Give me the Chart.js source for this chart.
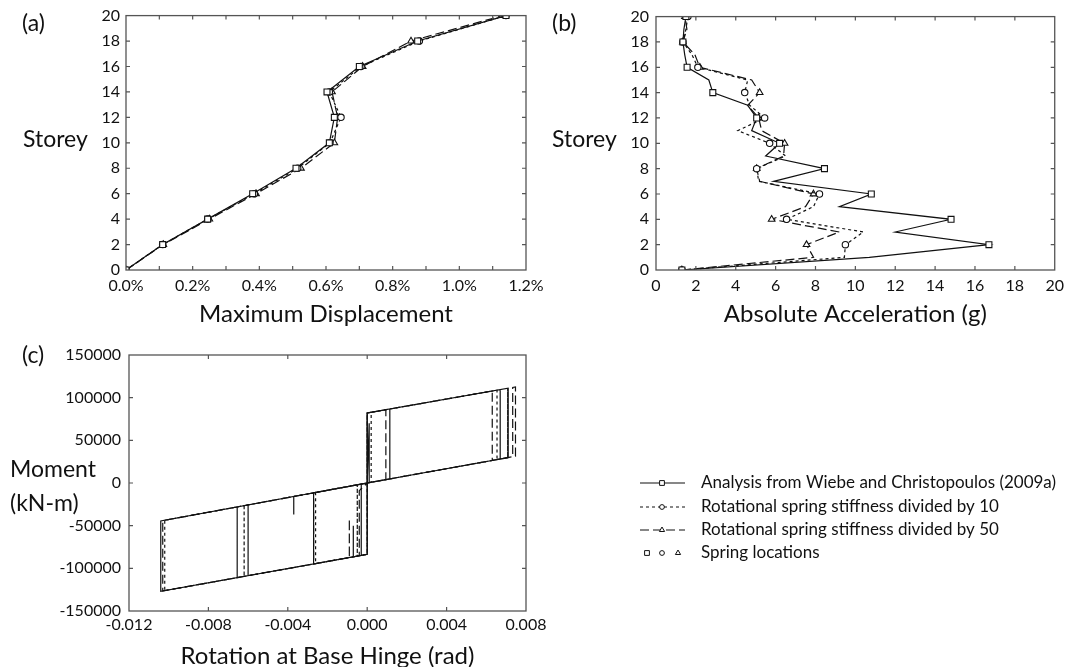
<!DOCTYPE html>
<html>
<head>
<meta charset="utf-8">
<script src="https://cdn.jsdelivr.net/npm/chart.js@4.4.1/dist/chart.umd.min.js"></script>
<style>
  body { margin: 0; background: #fff; }
  #page { position: relative; width: 1070px; height: 667px; overflow: hidden; font-family: Lato, sans-serif; color: #111; background: #fff; }
  canvas { position: absolute; }
  .lbl { position: absolute; font-size: 23px; line-height: 24px; white-space: nowrap; }
</style>
</head>
<body>
<div id="page">
  <canvas id="chartA" width="570" height="340" style="left:0;top:0"></canvas>
  <canvas id="chartB" width="540" height="340" style="left:530px;top:0"></canvas>
  <canvas id="chartC" width="1070" height="338" style="left:0;top:330px"></canvas>
  <div class="lbl" style="left:22px;top:10px">(a)</div>
  <div class="lbl" style="left:552px;top:10px">(b)</div>
  <div class="lbl" style="left:23px;top:126px">Storey</div>
  <div class="lbl" style="left:552px;top:126px">Storey</div>
  <div class="lbl" style="left:22px;top:342px">(c)</div>
  <div class="lbl" style="left:10px;top:456px">Moment</div>
  <div class="lbl" style="left:10px;top:490px">(kN-m)</div>
</div>
<script>
// (a) maximum displacement (%) per storey
const storeysA = [0, 2, 4, 6, 8, 10, 12, 14, 16, 18, 20];
const dispBase = [0, 0.11, 0.245, 0.38, 0.51, 0.61, 0.625, 0.603, 0.70, 0.875, 1.14];
const dispK10  = [0, 0.11, 0.245, 0.385, 0.515, 0.612, 0.645, 0.61, 0.705, 0.88, 1.14];
const dispK50  = [0, 0.112, 0.25, 0.39, 0.525, 0.625, 0.635, 0.618, 0.71, 0.855, 1.13];

// (b) absolute acceleration (g) per storey
const storeysB = [0, 1, 2, 3, 4, 5, 6, 7, 8, 9, 10, 11, 12, 13, 14, 15, 16, 17, 18, 19, 20];
const accBase = [1.3, 10.7, 16.7, 12.0, 14.8, 9.2, 10.8, 5.9, 8.45, 5.5, 6.2, 4.8, 5.05, 4.6, 2.85, 2.65, 1.56, 1.44, 1.35, 1.4, 1.5];
const accK10  = [1.3, 9.45, 9.5, 10.4, 6.55, 7.9, 8.2, 5.15, 5.05, 6.5, 5.7, 4.1, 5.45, 4.7, 4.45, 4.6, 2.1, 1.8, 1.35, 1.5, 1.6];
const accK50  = [1.3, 7.9, 7.55, 9.2, 5.8, 7.5, 7.9, 5.2, 5.05, 6.4, 6.45, 5.3, 5.15, 4.6, 5.2, 4.8, 2.2, 1.95, 1.35, 1.55, 1.45];

// (c) moment-rotation at base hinge
const rotBase = [0, 0, -0.0027, -0.0027, 0, 0, 0.00114, 0.00114, 0, 0, -0.0007, -0.0007, -0.0007, -0.0104, -0.0104, -0.006, -0.006, -0.006, -0.0037, -0.0037, -0.0037, 0, 0, 0.0071, 0.0071, 0.0067, 0.0067, 0.0067, 0, 0, -0.0003, -0.0003, 0, 0.0001, 0.0001, 0];
const momBase = [0, -83600, -94900, -11500, 0, 82000, 86700, 4800, 0, -83600, -86500, -50000, -86500, -127000, -44500, -25700, -108600, -25700, -15800, -37000, -15800, 0, 82000, 111100, 29800, 28100, 109500, 28100, 0, -83600, -84800, -1300, 0, 400, 70000, 0];
const rotK10 = [0, 0, -0.0026, -0.0026, 0, 0, 0.0002, 0.0002, 0, 0, -0.0005, -0.0005, -0.0005, -0.0102, -0.0102, -0.0062, -0.0062, -0.0062, 0, 0, 0.00654, 0.00654, 0.00708, 0.00708, 0.00708, 0];
const momK10 = [0, -83600, -94400, -11100, 0, 82000, 82800, 800, 0, -83600, -85700, -2100, -85700, -126100, -43700, -26500, -109500, -26500, 0, 82000, 108800, 27500, 29700, 111000, 29700, 0];
const rotK50 = [0, 0, -0.0027, -0.0027, 0, 0, 0.00094, 0.00094, 0, 0, -0.0009, -0.0009, -0.0009, -0.0103, -0.0103, -0.00655, -0.00655, -0.00655, 0, 0, 0.0063, 0.0063, 0.00747, 0.00747, 0.00733, 0.00733, 0, 0, -0.0004, -0.0004, 0];
const momK50 = [0, -83600, -94900, -11500, 0, 82000, 85850, 3950, 0, -83600, -87400, -42000, -87400, -126500, -44100, -28000, -110900, -28000, 0, 82000, 107800, 26500, 31400, 112600, 112000, 30800, 0, -83600, -85300, -9000, 0];

const seriesLabels = [
  'Analysis from Wiebe and Christopoulos (2009a)',
  'Rotational spring stiffness divided by 10',
  'Rotational spring stiffness divided by 50'
];

const FONT = 'Lato';
const INK = '#111';
const dashes = [[], [3, 3], [9, 4]];
const marks = [
  { pointStyle: 'rect', radius: 4.2 },
  { pointStyle: 'circle', radius: 3.2 },
  { pointStyle: 'triangle', radius: 3.8 }
];

const toPts = (xs, ys) => xs.map((x, i) => ({ x: x, y: ys[i] }));

function series(i, xs, ys, markerEvery) {
  return {
    label: seriesLabels[i],
    data: toPts(xs, ys),
    showLine: true,
    borderColor: INK,
    borderWidth: 1.2,
    borderDash: dashes[i],
    pointStyle: marks[i].pointStyle,
    pointRadius: markerEvery ? (ctx => ctx.dataIndex % markerEvery === 0 ? marks[i].radius : 0) : 0,
    pointBackgroundColor: '#fff',
    pointBorderColor: INK,
    pointBorderWidth: 1.1,
    tension: 0,
    fill: false
  };
}

// frame + inward ticks on all four sides
const framePlugin = {
  id: 'frame',
  afterDraw(chart) {
    const { ctx, chartArea: a, scales } = chart;
    ctx.save();
    ctx.strokeStyle = '#555';
    ctx.lineWidth = 1.3;
    ctx.strokeRect(a.left, a.top, a.right - a.left, a.bottom - a.top);
    ctx.lineWidth = 1.2;
    ctx.beginPath();
    scales.x.ticks.forEach(t => {
      const px = scales.x.getPixelForValue(t.value);
      if (px <= a.left + 1 || px >= a.right - 1) return;
      ctx.moveTo(px, a.bottom); ctx.lineTo(px, a.bottom - 4);
      ctx.moveTo(px, a.top); ctx.lineTo(px, a.top + 4);
    });
    scales.y.ticks.forEach(t => {
      const py = scales.y.getPixelForValue(t.value);
      if (py <= a.top + 1 || py >= a.bottom - 1) return;
      ctx.moveTo(a.left, py); ctx.lineTo(a.left + 4, py);
      ctx.moveTo(a.right, py); ctx.lineTo(a.right - 4, py);
    });
    ctx.stroke();
    ctx.restore();
  }
};

// legend drawn to the right of panel (c)
const legendPlugin = {
  id: 'sideLegend',
  afterDraw(chart) {
    const { ctx } = chart;
    const rows = [153, 177, 200, 223];
    ctx.save();
    ctx.font = '17px ' + FONT;
    ctx.textBaseline = 'middle';
    chart.data.datasets.forEach((ds, i) => {
      const y = rows[i];
      ctx.strokeStyle = INK;
      ctx.lineWidth = 1.2;
      ctx.setLineDash(dashes[i]);
      ctx.beginPath();
      ctx.moveTo(640, y); ctx.lineTo(685, y);
      ctx.stroke();
      ctx.setLineDash([]);
      ctx.fillStyle = '#fff';
      ctx.lineWidth = 1;
      Chart.helpers.drawPoint(ctx, { pointStyle: marks[i].pointStyle, radius: marks[i].radius - 0.8, rotation: 0, borderWidth: 1 }, 662, y);
      ctx.fillStyle = INK;
      ctx.fillText(ds.label, 701, y);
    });
    const y4 = rows[3];
    [647, 662, 678].forEach((x, i) => {
      ctx.fillStyle = '#fff';
      ctx.strokeStyle = INK;
      ctx.lineWidth = 1;
      Chart.helpers.drawPoint(ctx, { pointStyle: marks[i].pointStyle, radius: marks[i].radius - 0.8, rotation: 0, borderWidth: 1 }, x, y4);
    });
    ctx.fillStyle = INK;
    ctx.fillText('Spring locations', 701, y4);
    ctx.restore();
  }
};

const tickFont = { family: FONT, size: 16 };
const titleFont = { family: FONT, size: 24, lineHeight: 1 };

function axis(opts) {
  return Object.assign({
    type: 'linear',
    grid: { display: false, drawTicks: false },
    border: { display: false }
  }, opts);
}

function baseOptions(padding, xAxis, yAxis) {
  return {
    responsive: false,
    animation: false,
    layout: { padding: padding },
    plugins: { legend: { display: false }, tooltip: { enabled: false } },
    scales: { x: xAxis, y: yAxis }
  };
}

new Chart(document.getElementById('chartA'), {
  type: 'scatter',
  data: {
    datasets: [
      series(0, dispBase, storeysA, 1),
      series(1, dispK10, storeysA, 1),
      series(2, dispK50, storeysA, 1)
    ]
  },
  options: baseOptions({ left: 0, top: 15, right: 44, bottom: 10 },
    axis({
      min: 0, max: 1.2,
      ticks: { stepSize: 0.1, autoSkip: false, maxRotation: 0, padding: 6, color: INK, font: tickFont,
        callback: v => (Math.round(v * 10) % 2 === 0 ? v.toFixed(1) + '%' : '') },
      title: { display: true, text: 'Maximum Displacement', color: INK, font: titleFont, padding: { top: 0, bottom: 4 } },
      afterFit: s => { s.height = 60; }
    }),
    axis({
      min: 0, max: 20,
      ticks: { stepSize: 2, padding: 6, color: INK, font: tickFont },
      afterFit: s => { s.width = 126; }
    })),
  plugins: [framePlugin]
});

new Chart(document.getElementById('chartB'), {
  type: 'scatter',
  data: {
    datasets: [
      series(0, accBase, storeysB, 2),
      series(1, accK10, storeysB, 2),
      series(2, accK50, storeysB, 2)
    ]
  },
  options: baseOptions({ left: 0, top: 15, right: 14, bottom: 10 },
    axis({
      min: 0, max: 20,
      ticks: { stepSize: 2, autoSkip: false, maxRotation: 0, padding: 6, color: INK, font: tickFont },
      title: { display: true, text: 'Absolute Acceleration (g)', color: INK, font: titleFont, padding: { top: 0, bottom: 4 } },
      afterFit: s => { s.height = 60; }
    }),
    axis({
      min: 0, max: 20,
      ticks: { stepSize: 2, padding: 7, color: INK, font: tickFont },
      afterFit: s => { s.width = 126; }
    })),
  plugins: [framePlugin]
});

new Chart(document.getElementById('chartC'), {
  type: 'scatter',
  data: {
    datasets: [
      series(0, rotBase, momBase, 0),
      series(1, rotK10, momK10, 0),
      series(2, rotK50, momK50, 0)
    ]
  },
  options: baseOptions({ left: 0, top: 25, right: 544, bottom: 0 },
    axis({
      min: -0.012, max: 0.008,
      ticks: { stepSize: 0.004, autoSkip: false, maxRotation: 0, padding: 4, color: INK, font: tickFont,
        callback: v => (Math.abs(v) < 1e-9 ? 0 : v).toFixed(3) },
      title: { display: true, text: 'Rotation at Base Hinge (rad)', color: INK, font: titleFont, padding: { top: 0, bottom: 0 } },
      afterFit: s => { s.height = 57; }
    }),
    axis({
      min: -150000, max: 150000,
      ticks: { stepSize: 50000, padding: 8, color: INK, font: tickFont, callback: v => String(v) },
      afterFit: s => { s.width = 129; }
    })),
  plugins: [framePlugin, legendPlugin]
});
</script>
</body>
</html>
